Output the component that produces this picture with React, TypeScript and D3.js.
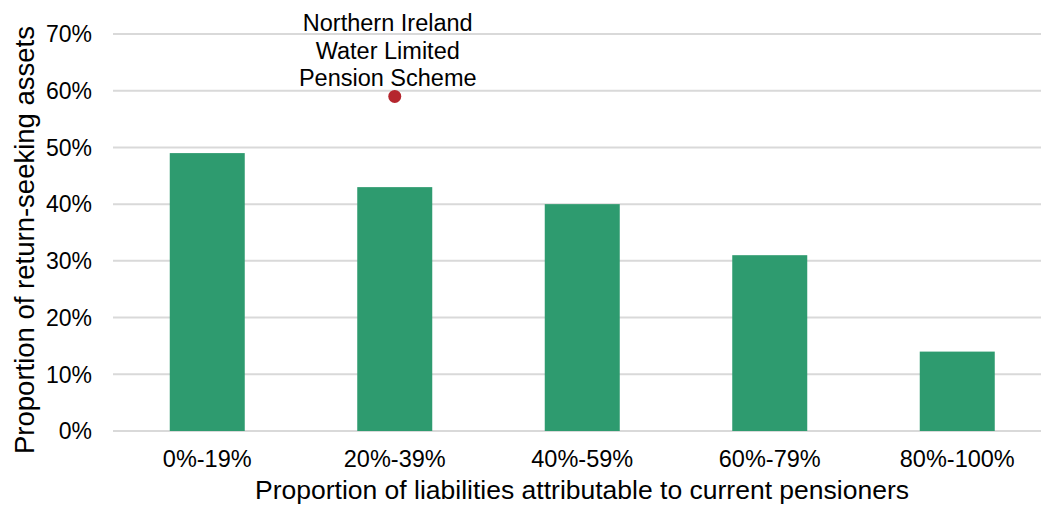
import React from "react";
import * as d3 from "d3";

const categories = ["0%-19%", "20%-39%", "40%-59%", "60%-79%", "80%-100%"];
const values = [0.49, 0.43, 0.40, 0.31, 0.14];
const yTicks = [0, 0.1, 0.2, 0.3, 0.4, 0.5, 0.6, 0.7];
const highlightCategory = "20%-39%";
const highlightValue = 0.59;
const highlightLabel = ["Northern Ireland", "Water Limited", "Pension Scheme"];
const xTitle = "Proportion of liabilities attributable to current pensioners";
const yTitle = "Proportion of return-seeking assets";

const W = 1041;
const H = 506;
const FONT = "'Liberation Sans', Arial, sans-serif";

export default function App() {
  const x = d3
    .scaleBand<string>()
    .domain(categories)
    .range([113.5, 1051])
    .paddingInner(0.6)
    .paddingOuter(0.3);
  const y = d3.scaleLinear().domain([0, 0.7]).range([431, 34]);
  const fmt = d3.format(".0%");
  const bw = x.bandwidth();
  const hx = (x(highlightCategory) as number) + bw / 2;

  return (
    <svg
      width={W}
      height={H}
      style={{ position: "absolute", left: 0, top: 0, background: "#fff" }}
      fontFamily={FONT}
    >
      <rect x={0} y={0} width={W} height={H} fill="#fff" />
      {yTicks.map((t) => (
        <g key={t}>
          <line x1={113} x2={W} y1={y(t)} y2={y(t)} stroke="#d9d9d9" strokeWidth={2} />
          <text x={92} y={y(t)} dy="0.36em" textAnchor="end" fontSize={23} fill="#000">
            {fmt(t)}
          </text>
        </g>
      ))}
      {categories.map((c, i) => (
        <rect
          key={c}
          x={x(c) as number}
          y={y(values[i])}
          width={bw}
          height={y(0) - y(values[i])}
          fill="#2e9b6f"
        />
      ))}
      {categories.map((c) => (
        <text
          key={c}
          x={(x(c) as number) + bw / 2}
          y={467}
          textAnchor="middle"
          fontSize={23.5}
          fill="#000"
        >
          {c}
        </text>
      ))}
      <circle cx={hx} cy={y(highlightValue)} r={6.5} fill="#b5262e" />
      {highlightLabel.map((l, i) => (
        <text
          key={l}
          x={hx - 7}
          y={31 + i * 27.5}
          textAnchor="middle"
          fontSize={23.5}
          fill="#000"
        >
          {l}
        </text>
      ))}
      <text x={582} y={499} textAnchor="middle" fontSize={26.5} fill="#000">
        {xTitle}
      </text>
      <text
        transform="translate(34,240) rotate(-90)"
        textAnchor="middle"
        fontSize={27.5}
        fill="#000"
      >
        {yTitle}
      </text>
    </svg>
  );
}
